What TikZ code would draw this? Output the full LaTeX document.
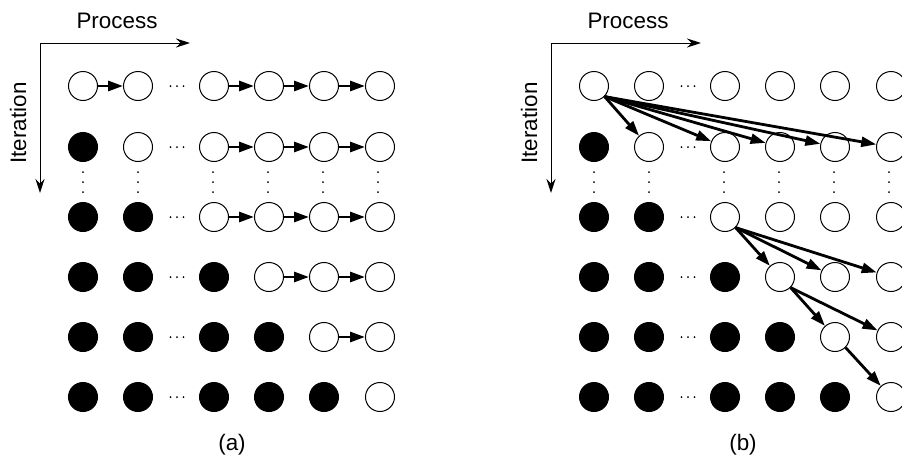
\documentclass[tikz,border=0pt]{standalone}
\usepackage{fontspec}
\setmainfont{Liberation Sans}
\usetikzlibrary{arrows.meta}

\begin{document}
\begin{tikzpicture}[x=0.5pt, y=-0.5pt,
    proc/.style={circle, draw, line width=0.5pt, minimum size=14.5pt, inner sep=0pt},
    done/.style={proc, fill=black},
    todo/.style={proc, fill=white},
    dep/.style={line width=1.4pt, -{Triangle[length=7.5pt, width=5pt]}},
    axis/.style={line width=0.5pt, -{Stealth[length=7pt, width=4.5pt]}},
    lbl/.style={font=\fontsize{11.2}{13}\selectfont}]

    \useasboundingbox (0,0) rectangle (902,461);
    \clip (0,0) rectangle (902,461);

    %% --- Both panels: axes, captions and the process grid ---
    \foreach \p/\dx in {a/0, b/511} {
      \begin{scope}[shift={(\dx,0)}]
        %% Axes
        \coordinate (\p-o) at (40,43);
        \coordinate (\p-px) at (190,43);
        \coordinate (\p-it) at (40,193);
        \draw[axis] (\p-o) -- (\p-px);
        \draw[axis] (\p-o) -- (\p-it);
        \node[lbl] (\p-proc) at (117,21) {Process};
        \node[lbl, rotate=90] (\p-iter) at (18,123) {Iteration};
        \node[lbl] (\p-cap) at (232,445) {(\p)};

        %% Grid (finished = black)
        \foreach \r/\y in {1/86, 2/147, 3/217, 4/277, 5/337, 6/397} {
          \foreach \c/\x in {1/83, 2/138, 3/214, 4/269, 5/324, 6/380} {
            \ifnum\c<\r \def\st{done}\else\def\st{todo}\fi
            \node[\st] (\p-\r-\c) at (\x,\y) {};
          }
          %% Horizontal dots
          \foreach \x in {170.5, 177, 183.5}
            \fill (\x,\y) circle (0.5pt);
        }

        %% Vertical dots
        \foreach \x in {83, 138, 213, 268, 323, 378}
          \foreach \y in {172, 182, 192}
            \fill (\x,\y) circle (0.5pt);
      \end{scope}
    }

    %% --- (a) Chains along a row ---
    \foreach \r/\c in {1/1, 1/3, 1/4, 1/5, 2/3, 2/4, 2/5, 3/3, 3/4, 3/5, 4/4, 4/5, 5/5} {
      \pgfmathtruncatemacro\n{\c+1}
      \draw[dep] (a-\r-\c) -- (a-\r-\n);
    }

    %% --- (b) Fan-out to the next iteration ---
    \foreach \c in {2,...,6}
      \draw[dep] (b-1-1.south east) -- (b-2-\c);
    \foreach \c in {4,...,6}
      \draw[dep] (b-3-3.south east) -- (b-4-\c);
    \foreach \c in {5,6}
      \draw[dep] (b-4-4.south east) -- (b-5-\c);
    \draw[dep] (b-5-5.south east) -- (b-6-6);

\end{tikzpicture}
\end{document}
